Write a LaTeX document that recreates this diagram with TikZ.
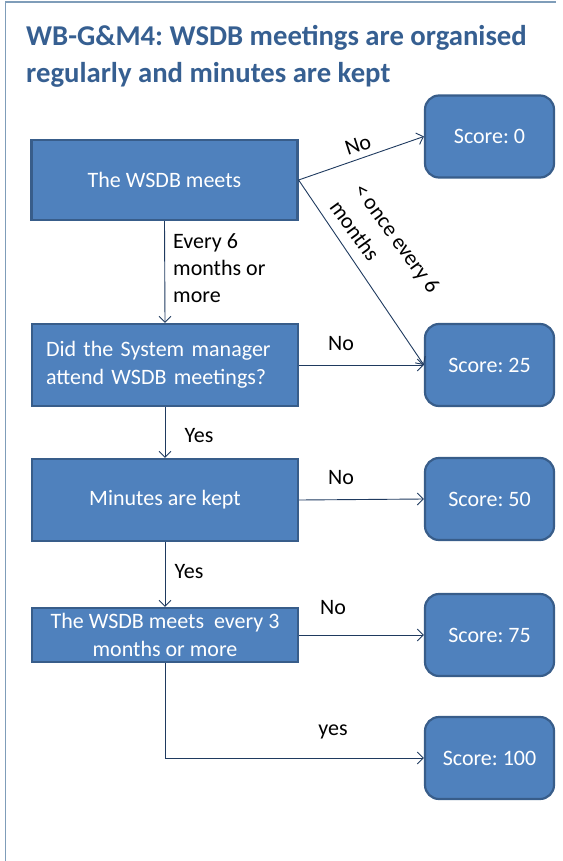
\documentclass[tikz,border=0pt]{standalone}
\usepackage{fontspec}
\setmainfont{Carlito}
\usetikzlibrary{arrows.meta}

\definecolor{boxfill}{HTML}{4F81BD}
\definecolor{boxedge}{HTML}{385D8A}
\definecolor{titleblue}{HTML}{365F91}
\definecolor{linkcol}{HTML}{1F3A5F}
\definecolor{framecol}{HTML}{7F9DB9}

\begin{document}
\frenchspacing
\begin{tikzpicture}[x=1pt,y=-1pt,
  question/.style={draw=boxedge, fill=boxfill, line width=2.2pt,
    minimum width=266pt, minimum height=80pt, text=white,
    font=\fontsize{22}{28}\selectfont, inner sep=0pt},
  scorebox/.style={draw=boxedge, fill=boxfill, line width=2.2pt,
    rounded corners=14pt, minimum width=129pt, minimum height=82pt,
    text=white, font=\fontsize{22}{28}\selectfont, inner sep=0pt},
  link/.style={draw=linkcol, line width=0.9pt,
    -{Straight Barb[length=6pt,width=12pt]}},
  lbl/.style={font=\fontsize{22}{27}\selectfont, inner sep=0pt},
  heading/.style={font=\fontsize{28.7}{37}\selectfont\bfseries,
    text=titleblue, inner sep=0pt, anchor=base west}
]
\useasboundingbox (0,0) rectangle (562,861);

% page frame
\draw[framecol, line width=1.5pt] (5.5,861) -- (5.5,2) -- (556,2);

% heading
\node[heading] (t1) at (26,46) {WB-G\&M4: WSDB meetings are organised};
\node[heading] (t2) at (26,83) {regularly and minutes are kept};

% decision boxes
\node[question] (b1) at (164.5,180) {The WSDB meets};
\node[question, minimum height=82pt, text width=238pt, inner xsep=14pt,
  align=left] (b2) at (165,365) {Did the System manager\\attend WSDB meetings?};
\node[question, minimum height=82pt] (b3) at (165,500) {Minutes are kept};
\node[question, minimum height=54pt, align=center] (b4) at (165,635)
  {The WSDB meets\hspace{0.45em}every 3\\months or more};

% score boxes
\node[scorebox] (s0) at (489.5,136.5) {Score: 0};
\node[scorebox] (s25) at (489.5,365) {Score: 25};
\node[scorebox] (s50) at (489.5,499) {Score: 50};
\node[scorebox] (s75) at (489.5,635) {Score: 75};
\node[scorebox] (s100) at (489.5,758) {Score: 100};

% connectors
\draw[link] (b1.east) -- (s0.west);
\draw[link] (b1.east) -- (s25.west);
\draw[link] (b1.south) -- (b2.north);
\draw[link] (b2.east) -- (s25.west);
\draw[link] (b2.south) -- (b3.north);
\draw[link] (b3.east) -- (s50.west);
\draw[link] (b3.south) -- (b4.north);
\draw[link] (b4.east) -- (s75.west);
\draw[link] (b4.south) |- (s100.west);

% connector labels
\node[lbl, rotate=18] (l0) at (358,145) {No};
\node[lbl, rotate=-54, align=left, font=\fontsize{22}{30}\selectfont]
  (l1) at (385,247) {< once every 6\\months};
\node[lbl, align=left, anchor=north west] (l2) at (173,233)
  {Every 6\\months or\\more};
\node[lbl] (l3) at (341,344) {No};
\node[lbl] (l4) at (199,436) {Yes};
\node[lbl] (l5) at (341,478) {No};
\node[lbl] (l6) at (189,572) {Yes};
\node[lbl] (l7) at (333,608) {No};
\node[lbl] (l8) at (333,732) {yes};
\end{tikzpicture}
\end{document}
